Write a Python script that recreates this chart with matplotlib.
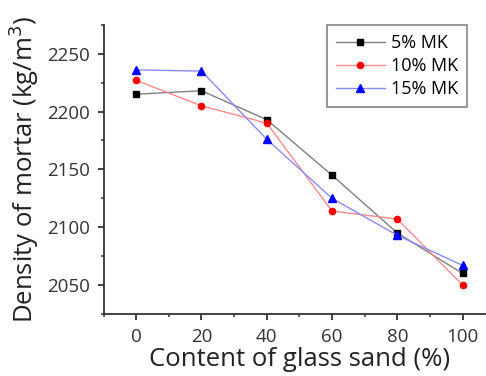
import matplotlib
matplotlib.use("Agg")
import matplotlib.pyplot as plt
from matplotlib.ticker import MultipleLocator

# glass sand content (%) and mortar density (kg/m3)
glass_sand = [0, 20, 40, 60, 80, 100]
mk5 = [2215, 2218, 2193, 2145, 2095, 2060]
mk10 = [2227, 2205, 2190, 2114, 2107, 2050]
mk15 = [2236, 2235, 2176, 2125, 2093, 2067]

plt.rcParams['font.family'] = ['Open Sans', 'DejaVu Sans']

fig = plt.figure(figsize=(4.86, 3.76), dpi=100)
ax = fig.add_axes([0.213, 0.165, 0.806, 0.769])

ax.plot(glass_sand, mk5, color='#808080', lw=1, marker='s', ms=4.3,
        mfc='black', mec='black', label='5% MK')
ax.plot(glass_sand, mk10, color='#ff8a8a', lw=1, marker='o', ms=4.5,
        mfc='red', mec='red', label='10% MK')
ax.plot(glass_sand, mk15, color='#8a8aff', lw=1, marker='^', ms=5.3,
        mfc='blue', mec='blue', label='15% MK')

ax.set_xlim(-10, 110)
ax.set_ylim(2025, 2275)
ax.xaxis.set_major_locator(MultipleLocator(20))
ax.xaxis.set_minor_locator(MultipleLocator(10))
ax.yaxis.set_major_locator(MultipleLocator(50))
ax.yaxis.set_minor_locator(MultipleLocator(25))

for side in ['top', 'right']:
    ax.spines[side].set_visible(False)
for side in ['left', 'bottom']:
    ax.spines[side].set_color('#333333')
    ax.spines[side].set_linewidth(1.3)

ax.tick_params(which='major', direction='out', length=4, width=1.3, pad=6,
               labelsize=13.5, colors='#333333')
ax.tick_params(which='minor', direction='out', length=2.5, width=1.1, colors='#333333')

ax.set_xlabel('Content of glass sand (%)', fontsize=18.5, color='#222222', labelpad=1)
ax.set_ylabel('Density of mortar (kg/m$^3$)', fontsize=18.5, color='#222222', labelpad=4)

leg = ax.legend(loc='upper left', bbox_to_anchor=(0.57, 1.0), fontsize=13,
                frameon=True, fancybox=False, edgecolor='#666666',
                handlelength=2.7, handletextpad=0.35, labelspacing=0.28,
                borderpad=0.5, borderaxespad=0)
leg.get_frame().set_linewidth(1.2)

fig.savefig('out.png', dpi=100)
